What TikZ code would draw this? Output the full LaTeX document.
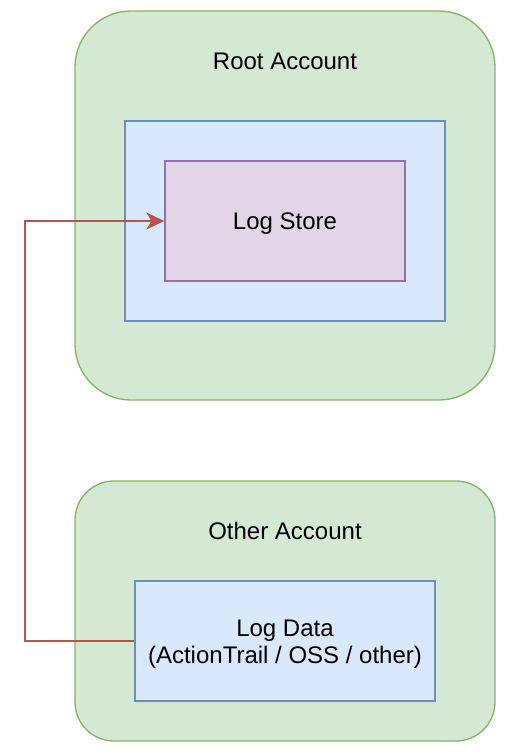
\documentclass[tikz,border=0pt]{standalone}
\usepackage{fontspec}
\setmainfont{Liberation Sans}
\usetikzlibrary{arrows.meta}
\definecolor{grfill}{HTML}{D5E8D4}
\definecolor{grline}{HTML}{82B366}
\definecolor{blfill}{HTML}{DAE8FC}
\definecolor{blline}{HTML}{6C8EBF}
\definecolor{pufill}{HTML}{E1D5E7}
\definecolor{puline}{HTML}{9673A6}
\definecolor{rdline}{HTML}{B85450}
\tikzset{
  boxbase/.style={rectangle, inner sep=0pt, line width=1.3pt},
  acct/.style={boxbase, fill=grfill, draw=grline},
  bluebox/.style={boxbase, fill=blfill, draw=blline},
  purplebox/.style={boxbase, fill=pufill, draw=puline},
  lbl/.style={inner sep=0pt, anchor=base, font=\fontsize{24pt}{26pt}\selectfont, text=black},
  conn/.style={draw=rdline, line width=1.5pt, -{Stealth[length=18pt, width=17pt, inset=5pt]}}
}
\begin{document}
\begin{tikzpicture}[x=1pt, y=-1pt]
\useasboundingbox (0,0) rectangle (506,752);
% Root account
\node[acct, minimum width=420pt, minimum height=389pt, rounded corners=56pt] (root) at (285,205.5) {};
\node[lbl] (roottxt) at (285,69.3) {Root Account};
\node[bluebox, minimum width=320pt, minimum height=200pt] (inner) at (285,221) {};
\node[purplebox, minimum width=240pt, minimum height=120pt] (logstore) at (285,221) {};
\node[lbl] (logstoretxt) at (285,229.3) {Log Store};
% Other account
\node[acct, minimum width=420pt, minimum height=260pt, rounded corners=39pt] (other) at (285,611) {};
\node[lbl] (othertxt) at (285,539.3) {Other Account};
\node[bluebox, minimum width=300pt, minimum height=120pt] (logdata) at (285,641) {};
\node[lbl] (logdatatxt1) at (285,636.7) {Log Data};
\node[lbl] (logdatatxt2) at (285,663) {(ActionTrail / OSS / other)};
% connector
\coordinate (bend) at (25,641);
\draw[conn] (logdata.west) -- (bend) |- (logstore.west);
\end{tikzpicture}
\end{document}
